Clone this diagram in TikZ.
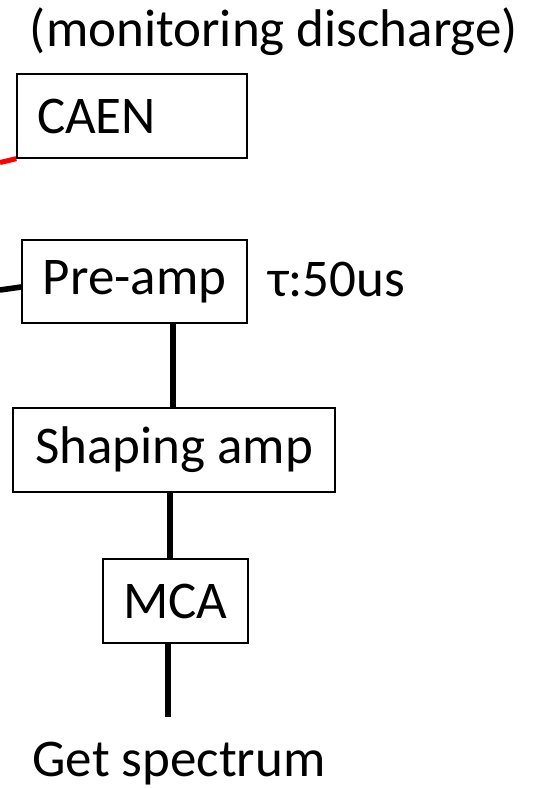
\documentclass[tikz,border=0pt]{standalone}
\usepackage{fontspec}
\setmainfont{Carlito}
\begin{document}
\begin{tikzpicture}[x=1pt,y=1pt,
  stage/.style={draw=black, line width=1.4pt, inner sep=0pt, font=\fontsize{53}{62}\selectfont},
  lbl/.style={inner sep=0pt, font=\fontsize{53}{62}\selectfont},
  wire/.style={line width=5.6pt, black},
  hvwire/.style={line width=5pt, red}]
\useasboundingbox (0,0) rectangle (537,788);
\clip (0,0) rectangle (537,788);

% processing chain
\node[stage, minimum width=230, minimum height=84, text width=190, inner xsep=20, align=left] (caen) at (132,672) {CAEN};
\node[stage, minimum width=225, minimum height=83] (preamp) at (134.5,506.5) {Pre-amp};
\node[stage, minimum width=322, minimum height=84] (shaping) at (174,338) {Shaping amp};
\node[stage, minimum width=145, minimum height=84] (mca) at (175.5,187) {MCA};

% labels
\node[lbl, anchor=base] (note) at (274,741) {(monitoring discharge)};
\node[lbl, anchor=base west] (tau) at (268,491) {τ:50us};
\node[lbl, anchor=base] (spectrum) at (179,12) {Get spectrum};

% incoming cables
\coordinate (hvin) at (0,625.5);
\coordinate (sigin) at (0,498);
\draw[hvwire] (hvin) -- (caen.south west);
\draw[wire] (sigin) -- ([yshift=-5.5pt]preamp.west);

% vertical links
\coordinate (specend) at (168,71);
\draw[wire] ([xshift=38.5pt]preamp.south) -- ([xshift=-1pt]shaping.north);
\draw[wire] ([xshift=-4pt]shaping.south) -- ([xshift=-5.5pt]mca.north);
\draw[wire] ([xshift=-7.5pt]mca.south) -- (specend);
\end{tikzpicture}
\end{document}
